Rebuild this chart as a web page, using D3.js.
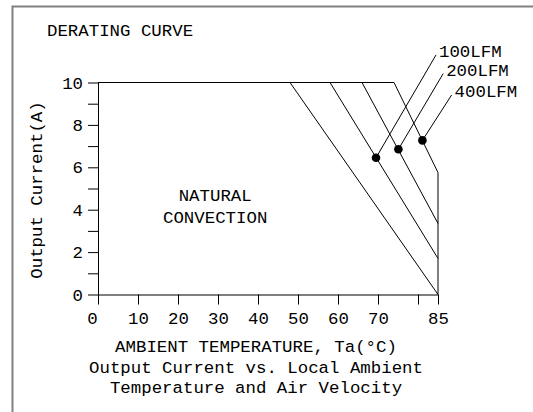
<!DOCTYPE html>
<html>
<head>
<meta charset="utf-8">
<script src="https://cdn.jsdelivr.net/npm/d3@7"></script>
<style>
  body { margin: 0; background: #fff; }
  svg text { font-family: "Liberation Mono", "DejaVu Sans Mono", monospace; font-size: 17.4px; letter-spacing: 0px; fill: #000; }
</style>
</head>
<body>
<div class="container"></div>
<script>
var w = 533,
h = 412;

// curves: ambient temperature (C) vs output current (A)
var naturalTemp = [0, 48, 85],
naturalCurrent = [10, 10, 0];
var lfm100Temp = [0, 58, 85],
lfm100Current = [10, 10, 1.7];
var lfm200Temp = [0, 66, 85],
lfm200Current = [10, 10, 3.35];
var lfm400Temp = [0, 74, 85, 85],
lfm400Current = [10, 10, 5.75, 0];

// marker points and leader ends for the air flow labels
var airLabels = ['100LFM', '200LFM', '400LFM'];
var dotTemp = [69.5, 75.1, 81.1],
dotCurrent = [6.45, 6.85, 7.27];
var leadTemp = [84.5, 86.3, 88.4],
leadCurrent = [11.3, 10.42, 9.41];

var xTicks = [0, 10, 20, 30, 40, 50, 60, 70, 80, 85];
var xTickLabels = ['0', '10', '20', '30', '40', '50', '60', '70', '', '85'];
var yTicks = [0, 1, 2, 3, 4, 5, 6, 7, 8, 9, 10];

var Graphic = d3.select('.container')
.append('svg')
.attr('width', w)
.attr('height', h);

// outer frame (only left & top visible)
Graphic.append('rect')
.attr('x', 12.5)
.attr('y', 6.5)
.attr('width', 700)
.attr('height', 700)
.style('fill', 'none')
.style('stroke', '#808080')
.style('stroke-width', 2);

var xScale = d3.scaleLinear()
.domain([0, 85])
.range([98, 438]);

var yScale = d3.scaleLinear()
.domain([0, 10])
.range([294.5, 82.5]);

Graphic.append('text')
.attr('x', 47)
.attr('y', 36)
.text('DERATING CURVE');

var xAxis = d3.axisBottom(xScale)
.tickValues(xTicks)
.tickFormat((d, i) => xTickLabels[i])
.tickSize(10)
.tickSizeOuter(0)
.tickPadding(7);

var xAxisGroup = Graphic.append('g')
.attr('id', 'x-axis')
.attr('transform', 'translate(0,' + yScale(0) + ')')
.call(xAxis);

var yAxis = d3.axisLeft(yScale)
.tickValues(yTicks)
.tickFormat(d => d % 2 === 0 ? d : '')
.tickSize(10)
.tickSizeOuter(0)
.tickPadding(5);

var yAxisGroup = Graphic.append('g')
.attr('id', 'y-axis')
.attr('transform', 'translate(' + xScale(0) + ',0)')
.call(yAxis);

Graphic.selectAll('.tick text')
.attr('font-family', null)
.attr('font-size', null);
Graphic.selectAll('.domain, .tick line')
.style('stroke', '#000')
.style('stroke-width', 1);
xAxisGroup.attr('font-family', null).attr('font-size', null);
yAxisGroup.attr('font-family', null).attr('font-size', null);
// the "0" label sits left of its tick
xAxisGroup.selectAll('.tick text').filter(d => d === 0).attr('dx', -6);

var line = d3.line()
.x(d => xScale(d[0]))
.y(d => yScale(d[1]));

var curves = [
  [naturalTemp, naturalCurrent],
  [lfm100Temp, lfm100Current],
  [lfm200Temp, lfm200Current],
  [lfm400Temp, lfm400Current]
];

Graphic.selectAll('path.curve')
.data(curves)
.enter()
.append('path')
.attr('class', 'curve')
.attr('d', c => line(c[0].map((t, i) => [t, c[1][i]])))
.style('fill', 'none')
.style('stroke', '#000')
.style('stroke-width', 1);

Graphic.selectAll('line.leader')
.data(airLabels)
.enter()
.append('line')
.attr('class', 'leader')
.attr('x1', (d, i) => xScale(dotTemp[i]))
.attr('y1', (d, i) => yScale(dotCurrent[i]))
.attr('x2', (d, i) => xScale(leadTemp[i]))
.attr('y2', (d, i) => yScale(leadCurrent[i]))
.style('stroke', '#000')
.style('stroke-width', 1);

Graphic.selectAll('circle.dot')
.data(airLabels)
.enter()
.append('circle')
.attr('class', 'dot')
.attr('cx', (d, i) => xScale(dotTemp[i]))
.attr('cy', (d, i) => yScale(dotCurrent[i]))
.attr('r', 4.3)
.style('fill', '#000');

Graphic.selectAll('text.air')
.data(airLabels)
.enter()
.append('text')
.attr('class', 'air')
.attr('x', (d, i) => xScale(leadTemp[i]) + 3)
.attr('y', (d, i) => yScale(leadCurrent[i]) + 2)
.text(d => d);

Graphic.append('text')
.attr('x', xScale(29.3))
.attr('y', yScale(4.39))
.attr('text-anchor', 'middle')
.text('NATURAL');
Graphic.append('text')
.attr('x', xScale(29.3))
.attr('y', yScale(3.37))
.attr('text-anchor', 'middle')
.text('CONVECTION');

Graphic.append('text')
.attr('transform', 'rotate(-90)')
.attr('x', -190)
.attr('y', 41.5)
.attr('text-anchor', 'middle')
.text('Output Current(A)');

var bottomText = ['AMBIENT TEMPERATURE, Ta(°C)', 'Output Current vs. Local Ambient', 'Temperature and Air Velocity'];
var bottomY = [352, 372.5, 393];
Graphic.selectAll('text.bottom')
.data(bottomText)
.enter()
.append('text')
.attr('class', 'bottom')
.attr('x', 256)
.attr('y', (d, i) => bottomY[i])
.attr('text-anchor', 'middle')
.text(d => d);
</script>
</body>
</html>
